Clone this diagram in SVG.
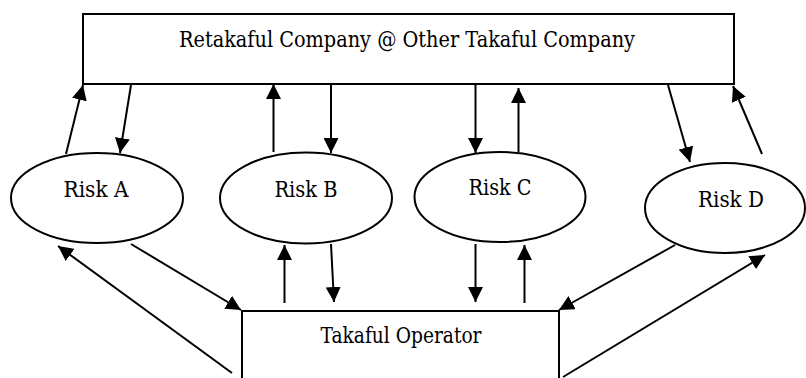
<svg xmlns="http://www.w3.org/2000/svg" width="806" height="378" viewBox="0 0 806 378">
<style>
.box{fill:#fff;stroke:#000;stroke-width:2}
.ell{fill:#fff;stroke:#000;stroke-width:2}
.lbl{font-family:'DejaVu Serif',serif;font-size:22px;fill:#000;text-anchor:middle}
.con line{stroke:#000;stroke-width:2;marker-end:url(#ah)}
</style>
<defs>
<marker id="ah" markerUnits="userSpaceOnUse" markerWidth="16" markerHeight="15" refX="15" refY="7.5" orient="auto">
<path d="M0,0 L15,7.5 L0,15 z" fill="#000"/>
</marker>
</defs>
<rect width="806" height="378" fill="#fff"/>
<g id="retakaful">
<rect class="box" x="83" y="14" width="651" height="70"/>
<text class="lbl" x="407" y="47" textLength="456" lengthAdjust="spacingAndGlyphs">Retakaful Company @ Other Takaful Company</text>
</g>
<g id="operator">
<rect class="box" x="242" y="311" width="317" height="100"/>
<text class="lbl" x="401" y="343" textLength="161" lengthAdjust="spacingAndGlyphs">Takaful Operator</text>
</g>
<g id="riskA">
<ellipse class="ell" cx="97" cy="198" rx="86" ry="45"/>
<text class="lbl" x="96" y="197" textLength="65" lengthAdjust="spacingAndGlyphs">Risk A</text>
</g>
<g id="riskB">
<ellipse class="ell" cx="306" cy="198" rx="86" ry="45.5"/>
<text class="lbl" x="306" y="197" textLength="63" lengthAdjust="spacingAndGlyphs">Risk B</text>
</g>
<g id="riskC">
<ellipse class="ell" cx="500" cy="197" rx="85.5" ry="45"/>
<text class="lbl" x="500" y="195" textLength="63" lengthAdjust="spacingAndGlyphs">Risk C</text>
</g>
<g id="riskD">
<ellipse class="ell" cx="725" cy="208" rx="80" ry="45"/>
<text class="lbl" x="731" y="207" textLength="66" lengthAdjust="spacingAndGlyphs">Risk D</text>
</g>
<g id="connectors" class="con">
<line x1="66" y1="154" x2="83" y2="85"/>
<line x1="131" y1="85" x2="120" y2="153"/>
<line x1="273.5" y1="152" x2="273.5" y2="84"/>
<line x1="331" y1="85" x2="331" y2="153"/>
<line x1="475.5" y1="85" x2="475.5" y2="153"/>
<line x1="518.5" y1="152" x2="518.5" y2="88"/>
<line x1="668" y1="85" x2="690" y2="162"/>
<line x1="762" y1="154" x2="733" y2="86"/>
<line x1="131" y1="244" x2="241" y2="310"/>
<line x1="232" y1="373" x2="58" y2="246"/>
<line x1="284.5" y1="303" x2="284.5" y2="245"/>
<line x1="331" y1="244" x2="334" y2="302"/>
<line x1="475.5" y1="244" x2="475.5" y2="302"/>
<line x1="524.5" y1="303" x2="524.5" y2="245"/>
<line x1="675" y1="245" x2="559" y2="310"/>
<line x1="563" y1="377" x2="765" y2="255"/>
</g>
</svg>
